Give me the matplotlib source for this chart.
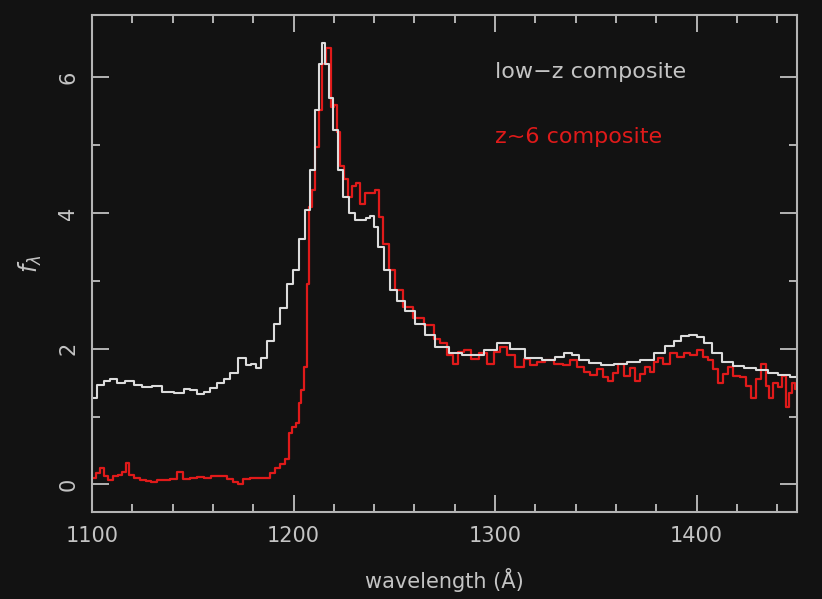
import matplotlib
matplotlib.use("Agg")
import matplotlib.pyplot as plt
from matplotlib.ticker import MultipleLocator

# low-z composite (white), wavelength in Angstrom, flux f_lambda
lowz_wave = [1100.5, 1104.0, 1107.4, 1110.4, 1113.9, 1118.9, 1122.3, 1127.3, 1132.3, 1137.2,
             1143.7, 1147.2, 1150.1, 1153.6, 1157.1, 1160.1, 1163.6, 1167.0, 1170.0, 1175.0,
             1177.5, 1180.0, 1182.4, 1185.0, 1188.4, 1191.9, 1194.8, 1198.3, 1200.8, 1204.8,
             1206.8, 1209.2, 1211.7, 1213.2, 1214.7, 1216.7, 1218.2, 1220.6, 1223.1, 1225.6,
             1229.1, 1232.1, 1234.6, 1237.0, 1239.0, 1240.5, 1243.0, 1246.5, 1249.4, 1252.9,
             1257.9, 1262.9, 1267.8, 1272.8, 1281.2, 1286.2, 1291.2, 1297.6, 1304.1, 1311.0,
             1319.0, 1327.4, 1332.4, 1336.3, 1339.8, 1343.8, 1349.7, 1355.7, 1362.1, 1368.6,
             1375.5, 1382.0, 1387.0, 1390.4, 1394.4, 1398.3, 1401.8, 1405.3, 1410.3, 1415.3,
             1420.7, 1426.7, 1432.6, 1438.1, 1443.1, 1449.5]
lowz_flux = [1.28, 1.46, 1.52, 1.56, 1.50, 1.53, 1.47, 1.43, 1.45, 1.36,
             1.34, 1.40, 1.39, 1.33, 1.36, 1.42, 1.49, 1.56, 1.64, 1.86,
             1.76, 1.78, 1.72, 1.87, 2.12, 2.37, 2.60, 2.96, 3.16, 3.62,
             4.04, 4.63, 5.52, 6.20, 6.50, 6.20, 5.70, 5.22, 4.63, 4.23,
             4.00, 3.89, 3.90, 3.92, 3.96, 3.79, 3.50, 3.16, 2.86, 2.70,
             2.55, 2.37, 2.20, 2.02, 1.93, 1.90, 1.90, 1.98, 2.08, 2.00,
             1.86, 1.83, 1.88, 1.93, 1.90, 1.83, 1.79, 1.76, 1.78, 1.80,
             1.84, 1.93, 2.04, 2.12, 2.18, 2.20, 2.17, 2.08, 1.94, 1.80,
             1.75, 1.71, 1.68, 1.64, 1.61, 1.58]

# z~6 composite (red)
hiz_wave = [1100.5, 1103.0, 1105.0, 1107.0, 1108.9, 1111.4, 1113.9, 1115.9, 1117.4, 1118.9,
            1122.3, 1125.3, 1127.8, 1130.3, 1133.8, 1137.2, 1140.2, 1143.7, 1146.7, 1150.1,
            1153.6, 1157.1, 1161.1, 1165.0, 1168.5, 1171.5, 1173.5, 1176.5, 1180.0, 1183.4,
            1186.9, 1189.4, 1191.9, 1194.3, 1196.8, 1198.3, 1200.3, 1201.8, 1203.3, 1204.3,
            1205.8, 1207.3, 1208.3, 1209.7, 1211.7, 1213.2, 1215.2, 1216.7, 1218.2, 1219.2,
            1220.7, 1222.1, 1224.1, 1226.1, 1228.1, 1230.1, 1231.6, 1234.1, 1237.0, 1239.5,
            1241.5, 1243.0, 1245.5, 1248.9, 1251.9, 1256.4, 1261.9, 1267.8, 1271.3, 1274.3,
            1277.8, 1280.3, 1283.2, 1286.2, 1290.2, 1294.1, 1297.6, 1301.1, 1304.1, 1307.5,
            1312.5, 1316.0, 1319.0, 1322.4, 1327.4, 1331.4, 1335.8, 1338.8, 1342.3, 1345.8,
            1348.7, 1352.2, 1354.7, 1357.2, 1359.7, 1362.1, 1365.6, 1368.1, 1370.6, 1373.1,
            1375.5, 1378.0, 1380.0, 1382.0, 1385.0, 1388.4, 1391.9, 1395.4, 1398.3, 1401.8,
            1404.3, 1406.8, 1409.3, 1411.8, 1414.3, 1416.8, 1419.7, 1423.2, 1425.7, 1428.2,
            1430.7, 1433.2, 1435.2, 1436.7, 1439.2, 1441.6, 1443.6, 1445.1, 1446.6, 1448.0,
            1449.5]
hiz_flux = [0.10, 0.16, 0.24, 0.12, 0.06, 0.12, 0.14, 0.18, 0.32, 0.14,
            0.10, 0.06, 0.05, 0.03, 0.06, 0.06, 0.08, 0.18, 0.08, 0.09,
            0.11, 0.09, 0.12, 0.13, 0.08, 0.04, 0.01, 0.08, 0.09, 0.09,
            0.10, 0.16, 0.24, 0.30, 0.38, 0.75, 0.85, 0.90, 1.20, 1.39,
            1.73, 2.96, 4.09, 4.34, 4.97, 5.52, 6.20, 6.43, 6.43, 5.56,
            5.60, 5.20, 4.70, 4.50, 4.23, 4.40, 4.44, 4.14, 4.29, 4.30,
            4.34, 3.94, 3.55, 3.16, 2.86, 2.61, 2.45, 2.35, 2.15, 2.08,
            1.90, 1.78, 1.95, 1.98, 1.85, 1.93, 1.78, 1.95, 2.02, 1.90,
            1.73, 1.85, 1.76, 1.80, 1.83, 1.78, 1.76, 1.84, 1.73, 1.66,
            1.61, 1.70, 1.58, 1.53, 1.64, 1.78, 1.60, 1.72, 1.53, 1.62,
            1.73, 1.66, 1.80, 1.86, 1.78, 1.93, 1.88, 1.93, 1.90, 1.98,
            1.88, 1.83, 1.70, 1.49, 1.62, 1.73, 1.60, 1.58, 1.45, 1.28,
            1.55, 1.78, 1.45, 1.28, 1.50, 1.43, 1.60, 1.14, 1.35, 1.49,
            1.40]

x_ticks = [1100, 1200, 1300, 1400]
y_ticks = [0, 2, 4, 6]

bg = "#121212"
fg = "#c4c4c4"
white_line = "#dcdcdc"
red_line = "#e01a1a"

fig = plt.figure(figsize=(8.22, 5.99), dpi=100, facecolor=bg)
ax = fig.add_axes([0.112, 0.145, 0.858, 0.830], facecolor=bg)

ax.plot(hiz_wave, hiz_flux, drawstyle="steps-mid", color=red_line, lw=1.6)
ax.plot(lowz_wave, lowz_flux, drawstyle="steps-mid", color=white_line, lw=1.5)

ax.set_xlim(1100, 1450)
ax.set_ylim(-0.41, 6.92)
ax.set_xticks(x_ticks)
ax.set_yticks(y_ticks)
ax.xaxis.set_minor_locator(MultipleLocator(20))
ax.yaxis.set_minor_locator(MultipleLocator(1))

for s in ax.spines.values():
    s.set_color("#b4b4b4")
    s.set_linewidth(1.5)

ax.tick_params(which="both", direction="in", top=True, right=True, colors="#b4b4b4",
               labelcolor=fg, labelsize=15, width=1.4)
ax.tick_params(which="major", length=12, pad=10)
ax.tick_params(which="minor", length=6)
for lab in ax.get_yticklabels():
    lab.set_rotation(90)
    lab.set_va("center")

ax.set_xlabel("wavelength (Å)", color=fg, fontsize=15, labelpad=16)
ax.set_ylabel(r"$f_\lambda$", color=fg, fontsize=17, labelpad=10)

ax.text(1300, 6.08, "low\u2212z composite", color=fg, fontsize=16, va="center")
ax.text(1300, 5.12, "z~6 composite", color=red_line, fontsize=16, va="center")

fig.savefig("out.png", dpi=100, facecolor=bg)
